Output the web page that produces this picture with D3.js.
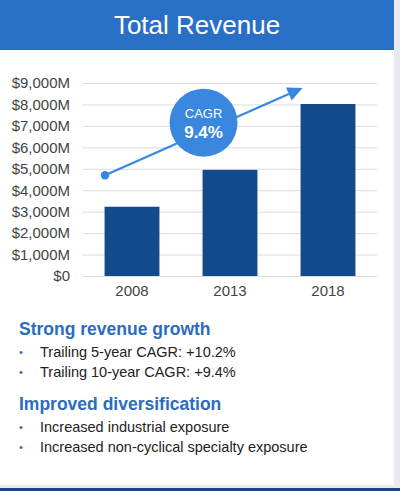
<!DOCTYPE html>
<html>
<head>
<meta charset="utf-8">
<script src="https://cdn.jsdelivr.net/npm/d3@7"></script>
<style>
  html, body { margin: 0; padding: 0; background: #ebebef; }
  svg { display: block; font-family: "Liberation Sans", Arial, Helvetica, sans-serif; }
</style>
</head>
<body>
<svg id="chart" width="400" height="491"></svg>
<script>
const title = "Total Revenue";
const categories = ["2008", "2013", "2018"];
const revenue = [3230, 4950, 8020];
const yTicks = [0, 1000, 2000, 3000, 4000, 5000, 6000, 7000, 8000, 9000];
const cagrLabel = "CAGR";
const cagrValue = "9.4%";
const arrowStartValue = 4700;
const arrowEndValue = 8770;
const headings = ["Strong revenue growth", "Improved diversification"];
const bullets1 = ["Trailing 5-year CAGR: +10.2%", "Trailing 10-year CAGR: +9.4%"];
const bullets2 = ["Increased industrial exposure", "Increased non-cyclical specialty exposure"];

const svg = d3.select("#chart");

// panel background
svg.append("rect").attr("x", 0).attr("y", 0).attr("width", 394).attr("height", 485).attr("fill", "#ffffff");
svg.append("rect").attr("x", 0).attr("y", 488).attr("width", 400).attr("height", 3).attr("fill", "#1d4583");

// header
svg.append("rect").attr("x", 0).attr("y", 0).attr("width", 394).attr("height", 50).attr("fill", "#2a6fc6");
svg.append("text").attr("x", 197).attr("y", 34).attr("text-anchor", "middle")
  .attr("fill", "#ffffff").attr("font-size", 26).text(title);

// scales
const x = d3.scaleBand().domain(categories).range([83, 377]).paddingInner(0.44).paddingOuter(0.22);
const y = d3.scaleLinear().domain([0, 9000]).range([276, 83]);

// gridlines
svg.append("g").selectAll("line").data(yTicks).join("line")
  .attr("x1", 83).attr("x2", 377)
  .attr("y1", d => y(d) + 0.5).attr("y2", d => y(d) + 0.5)
  .attr("stroke", "#dcdcdf").attr("stroke-width", 1);

// y axis labels
const fmt = d => d === 0 ? "$0" : "$" + d3.format(",")(d) + "M";
const yAxis = d3.axisLeft(y).tickValues(yTicks).tickFormat(fmt).tickSize(0).tickPadding(0);
const gy = svg.append("g").attr("transform", "translate(70,0)").call(yAxis);
gy.select(".domain").remove();
gy.selectAll("text").attr("font-size", 15).attr("fill", "#444444")
  .attr("font-family", "'Liberation Sans', Arial, sans-serif");

// bars
svg.append("g").selectAll("rect").data(revenue).join("rect")
  .attr("x", (d, i) => x(categories[i]))
  .attr("width", x.bandwidth())
  .attr("y", d => y(d))
  .attr("height", d => y(0) - y(d))
  .attr("fill", "#134a8b");

// x axis labels
const xAxis = d3.axisBottom(x).tickSize(0).tickPadding(0);
const gx = svg.append("g").attr("transform", "translate(0,285)").call(xAxis);
gx.select(".domain").remove();
gx.selectAll("text").attr("font-size", 15).attr("fill", "#444444")
  .attr("font-family", "'Liberation Sans', Arial, sans-serif");

// CAGR arrow
const accent = "#3a87e0";
const x0 = x(categories[0]) + x.bandwidth() / 2 - 27;
const y0 = y(arrowStartValue);
const x1 = x(categories[2]) + 2;
const y1 = y(arrowEndValue);
const ang = Math.atan2(y1 - y0, x1 - x0);
const headLen = 15, headHalf = 7;
const bx = x1 - headLen * Math.cos(ang), by = y1 - headLen * Math.sin(ang);
svg.append("line").attr("x1", x0).attr("y1", y0).attr("x2", bx).attr("y2", by)
  .attr("stroke", accent).attr("stroke-width", 2.2);
svg.append("circle").attr("cx", x0).attr("cy", y0).attr("r", 4.2).attr("fill", accent);
svg.append("path")
  .attr("d", d3.line()([
    [x1, y1],
    [bx + headHalf * Math.sin(ang), by - headHalf * Math.cos(ang)],
    [bx - headHalf * Math.sin(ang), by + headHalf * Math.cos(ang)]
  ]) + "Z")
  .attr("fill", accent);

// CAGR bubble
const cx = x(categories[1]) + 1, cy = y(7150);
svg.append("circle").attr("cx", cx).attr("cy", cy).attr("r", 34).attr("fill", accent);
svg.append("text").attr("x", cx).attr("y", cy - 5).attr("text-anchor", "middle")
  .attr("fill", "#ffffff").attr("font-size", 13).text(cagrLabel);
svg.append("text").attr("x", cx).attr("y", cy + 15).attr("text-anchor", "middle")
  .attr("fill", "#ffffff").attr("font-size", 17).attr("font-weight", "bold").text(cagrValue);

// text section
const headColor = "#2b6cbf";
function section(heading, items, baseY) {
  svg.append("text").attr("x", 19).attr("y", baseY).attr("fill", headColor)
    .attr("font-size", 17.5).attr("font-weight", "bold").text(heading);
  items.forEach((t, i) => {
    const by2 = baseY + 22 + i * 20;
    svg.append("text").attr("x", 19).attr("y", by2 - 1).attr("fill", headColor)
      .attr("font-size", 11).text("•");
    svg.append("text").attr("x", 40).attr("y", by2).attr("fill", "#222222")
      .attr("font-size", 14.5).text(t);
  });
}
section(headings[0], bullets1, 335);
section(headings[1], bullets2, 410);
</script>
</body>
</html>
